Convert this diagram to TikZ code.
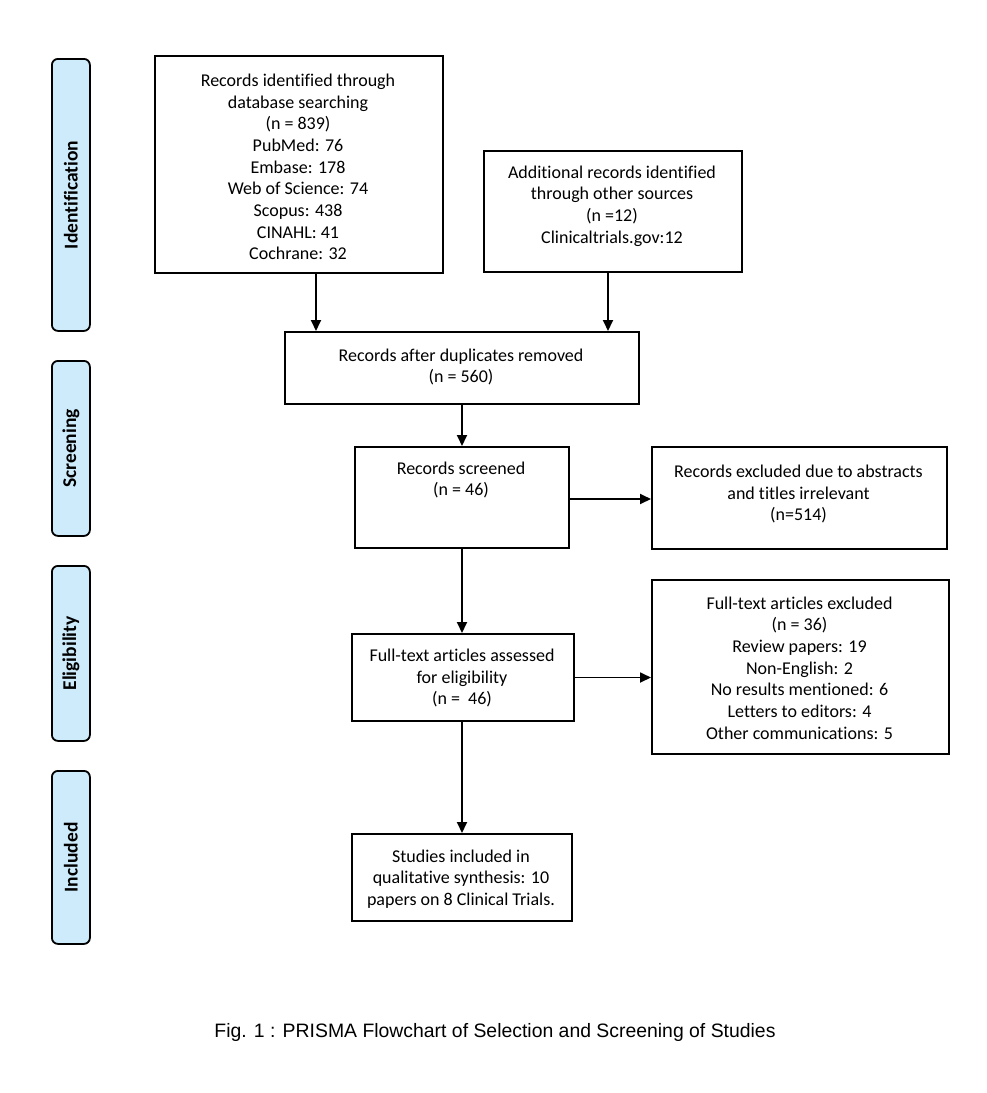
\documentclass[tikz,border=0pt]{standalone}
\usepackage{fontspec}
\setmainfont{Carlito}[Ligatures=NoCommon]
\newfontfamily\capfont{Liberation Sans}
\usetikzlibrary{arrows.meta}
\definecolor{sidefill}{HTML}{CDEBFB}
\begin{document}
\begin{tikzpicture}[x=1pt,y=-1pt,
  box/.style={draw=black,line width=2pt,fill=white,inner sep=0pt,anchor=north west},
  txt/.style={align=center,inner sep=0pt,font=\fontsize{18}{21.7}\selectfont},
  side/.style={draw=black,line width=1.8pt,fill=sidefill,rounded corners=6pt,inner sep=0pt,anchor=north west,minimum width=38pt},
  sidetxt/.style={rotate=90,font=\bfseries\fontsize{19.5}{22}\selectfont,inner sep=0pt},
  arr/.style={line width=1.8pt,-{Triangle[length=11pt,width=10pt]}}]
\useasboundingbox (0,0) rectangle (986,1093);
% side labels
\node[side,minimum height=272pt] (s1) at (51,58) {};
\node[sidetxt] (s1t) at (s1.center) {Identification};
\node[side,minimum height=175pt] (s2) at (51,360) {};
\node[sidetxt] (s2t) at (s2.center) {Screening};
\node[side,minimum height=175pt] (s3) at (51,565) {};
\node[sidetxt] (s3t) at (s3.center) {Eligibility};
\node[side,minimum height=173pt] (s4) at (51,770) {};
\node[sidetxt] (s4t) at (s4.center) {Included};
% boxes
\node[box,minimum width=288pt,minimum height=217pt] (b1) at (154,55) {};
\node[txt] (b1t) at (298,167) {Records identified through\\database searching\\(n = 839)\\PubMed: 76\\Embase: 178\\Web of Science: 74\\Scopus: 438\\CINAHL: 41\\Cochrane: 32};
\node[box,minimum width=258pt,minimum height=121pt] (b2) at (483,150) {};
\node[txt] (b2t) at (612,206) {Additional records identified\\through other sources\\(n =12)\\Clinicaltrials.gov:12};
\node[box,minimum width=354pt,minimum height=72pt] (b3) at (284,331) {};
\node[txt] (b3t) at (461,367) {Records after duplicates removed\\(n = 560)};
\node[box,minimum width=214pt,minimum height=101pt] (b4) at (354,446) {};
\node[txt] (b4t) at (461,480) {Records screened\\(n = 46)};
\node[box,minimum width=295pt,minimum height=102pt] (b5) at (651,446) {};
\node[txt] (b5t) at (798.5,494) {Records excluded due to abstracts\\and titles irrelevant\\(n=514)};
\node[box,minimum width=222pt,minimum height=87pt] (b6) at (351,633) {};
\node[txt] (b6t) at (462,678) {Full-text articles assessed\\for eligibility\\(n =\ \ 46)};
\node[box,minimum width=297pt,minimum height=174pt] (b7) at (651,579) {};
\node[txt] (b7t) at (799.5,668) {Full-text articles excluded\\(n = 36)\\Review papers: 19\\Non-English: 2\\No results mentioned: 6\\Letters to editors: 4\\Other communications: 5};
\node[box,minimum width=220pt,minimum height=87pt] (b8) at (351,833) {};
\node[txt] (b8t) at (461,879) {Studies included in\\qualitative synthesis: 10\\papers on 8 Clinical Trials.};
% arrows
\draw[arr] ([xshift=17pt]b1.south) -- ([xshift=17pt]b1.south |- b3.north);
\draw[arr] ([xshift=-5pt]b2.south) -- ([xshift=-5pt]b2.south |- b3.north);
\draw[arr] (b3.south) -- (b3.south |- b4.north);
\draw[arr] (b4.south) -- (b4.south |- b6.north);
\draw[arr] (b6.south -| b4.south) -- (b4.south |- b8.north);
\draw[arr] ([yshift=-1.5pt]b4.east) -- ([yshift=-1.5pt]b4.east -| b5.west);
\draw[arr] (b6.east) -- (b6.east -| b7.west);
% caption
\node[font=\capfont\fontsize{19.4}{22}\selectfont,inner sep=0pt] (cap) at (495,1032) {Fig. 1 : PRISMA Flowchart of Selection and Screening of Studies};
\end{tikzpicture}
\end{document}
